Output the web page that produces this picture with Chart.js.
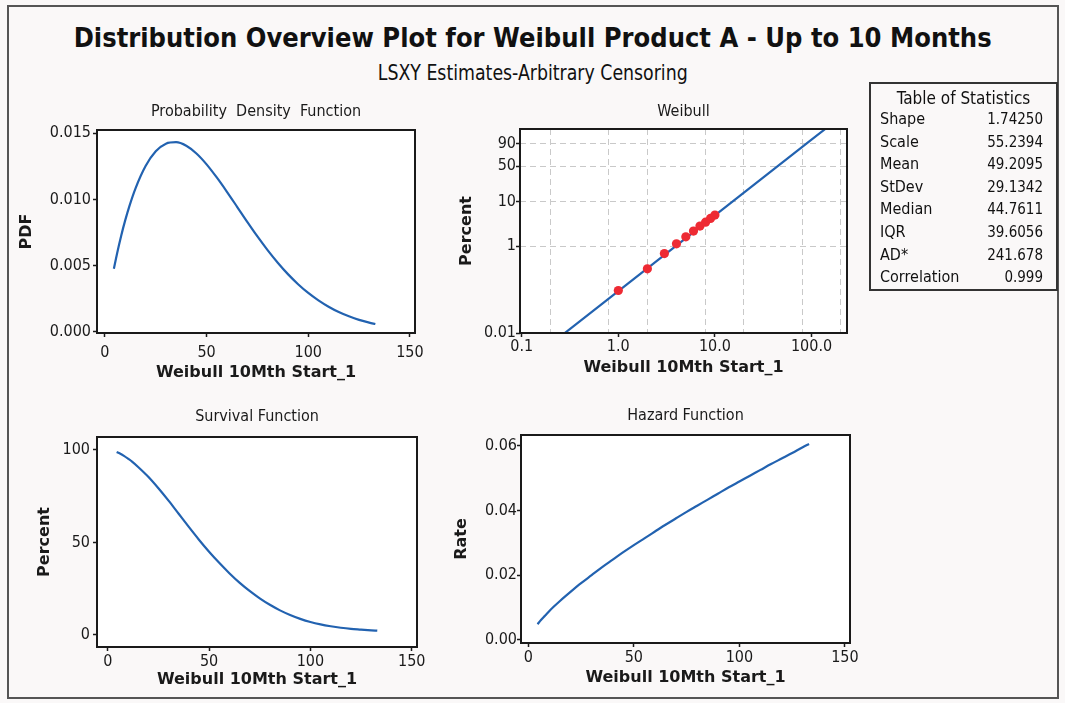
<!DOCTYPE html>
<html>
<head>
<meta charset="utf-8">
<title>Distribution Overview Plot</title>
<script src="https://cdn.jsdelivr.net/npm/chart.js@4.4.1/dist/chart.umd.min.js"></script>
<style>
  html, body { margin: 0; padding: 0; background: #faf8f8; }
  #page { position: relative; width: 1065px; height: 703px; overflow: hidden; background: #faf8f8; }
  #frame { position: absolute; left: 7px; top: 5px; width: 1052px; height: 694px; border: 2px solid #555; box-sizing: border-box; }
  .head { position: absolute; left: 0; width: 1065px; text-align: center; white-space: nowrap; color: #111; }
  .head span { display: inline-block; transform-origin: 50% 50%; }
  #t1 { top: 22px; line-height: 32px; font: bold 27px "DejaVu Sans", sans-serif; }
  #t2 { top: 61px; line-height: 24px; font: 21px "DejaVu Sans Condensed", "DejaVu Sans", sans-serif; }
  canvas { position: absolute; }
  #stats { position: absolute; left: 869px; top: 82px; width: 189px; height: 209px; border: 2px solid #333; box-sizing: border-box; font-family: "DejaVu Sans Condensed", "DejaVu Sans", sans-serif; color: #111; }
  #stats div { position: absolute; white-space: nowrap; line-height: 20px; }
</style>
</head>
<body>
<div id="page">
  <div id="frame"></div>
  <div class="head" id="t1"><span id="t1s">Distribution Overview Plot for Weibull Product A - Up to 10 Months</span></div>
  <div class="head" id="t2"><span id="t2s">LSXY Estimates-Arbitrary Censoring</span></div>
  <canvas id="pdfChart" width="440" height="295" style="left:0;top:95px"></canvas>
  <canvas id="probChart" width="430" height="295" style="left:440px;top:95px"></canvas>
  <canvas id="survChart" width="440" height="308" style="left:0;top:395px"></canvas>
  <canvas id="hazChart" width="430" height="308" style="left:440px;top:395px"></canvas>
  <div id="stats"></div>
</div>
<script>
// ---- data ----
const timeGrid = [4.4, 6, 8, 10, 12, 15, 20, 25, 30, 35, 40, 45, 50, 55, 60, 65, 70, 75, 80, 85, 90, 95, 100, 105, 110, 115, 120, 125, 130, 133];
const pdfValues = [0.00476, 0.00594, 0.00726, 0.00843, 0.00947, 0.01081, 0.01251, 0.01362, 0.01420, 0.01431,
                   0.01404, 0.01346, 0.01264, 0.01165, 0.01057, 0.00944, 0.00830, 0.00720, 0.00617, 0.00522,
                   0.00436, 0.00360, 0.00294, 0.00238, 0.00190, 0.00150, 0.00118, 0.00091, 0.00070, 0.00060];
const survivalPercent = [98.9, 98.1, 96.8, 95.3, 93.7, 90.8, 85.5, 79.3, 72.6, 65.5,
                         58.4, 51.5, 45.0, 39.0, 33.4, 28.3, 23.8, 19.8, 16.3, 13.3,
                         10.8, 8.7, 7.0, 5.7, 4.7, 3.9, 3.3, 2.9, 2.5, 2.3];
const hazardRate = [0.0048, 0.0061, 0.0075, 0.0089, 0.0102, 0.0120, 0.0148, 0.0175, 0.0200, 0.0225,
                    0.0248, 0.0271, 0.0293, 0.0314, 0.0335, 0.0356, 0.0376, 0.0396, 0.0415, 0.0434,
                    0.0453, 0.0472, 0.0490, 0.0508, 0.0526, 0.0544, 0.0561, 0.0578, 0.0596, 0.0606];

const failMonths = [1, 2, 3, 4, 5, 6, 7, 8, 9, 10];
const failPercent = [0.095, 0.30, 0.67, 1.12, 1.62, 2.2, 2.85, 3.5, 4.25, 5.05];
const fitMonths = [0.27, 1, 10, 100, 140];
const fitPercent = [0.0094, 0.092, 4.96, 94.0, 99.36];

const timeTicks = [0, 50, 100, 150];
const pdfTicks = [0, 0.005, 0.010, 0.015];
const survivalTicks = [0, 50, 100];
const hazardTicks = [0, 0.02, 0.04, 0.06];
const monthLabelTicks = [0.1, 1, 10, 100];
const monthGridTicks = [0.2, 0.8, 2, 8, 20, 80, 200];
const percentTicks = [0.01, 1, 10, 50, 90];

const statNames = ['Shape', 'Scale', 'Mean', 'StDev', 'Median', 'IQR', 'AD*', 'Correlation'];
const statValues = ['1.74250', '55.2394', '49.2095', '29.1342', '44.7611', '39.6056', '241.678', '0.999'];

// ---- Weibull probability-paper axis: linear in ln(-ln(1 - p)) ----
const weibullTransform = p => Math.log(-Math.log(1 - p / 100));
class WeibullPercentScale extends Chart.LinearScale {
  static id = 'weibullPercent';
  static defaults = {};
  configure() {
    super.configure();
    this._wMin = weibullTransform(this.min);
    this._wMax = weibullTransform(this.max);
  }
  getPixelForValue(v) {
    return this.getPixelForDecimal((weibullTransform(v) - this._wMin) / (this._wMax - this._wMin));
  }
  getValueForPixel(px) {
    const w = this._wMin + this.getDecimalForPixel(px) * (this._wMax - this._wMin);
    return 100 * (1 - Math.exp(-Math.exp(w)));
  }
}
Chart.register(WeibullPercentScale);

// ---- shared styling ----
const INK = '#1a1a1a';
const CURVE = '#2262b0';
const tickFont = { family: '"DejaVu Sans Condensed", "Open Sans", sans-serif', size: 16, lineHeight: 1.2 };
const axisTitleFont = { family: '"DejaVu Sans", sans-serif', size: 16, weight: 'bold', lineHeight: 1.2 };
const panelTitleFont = { family: '"DejaVu Sans Condensed", "Open Sans", sans-serif', size: 16, weight: 'normal', lineHeight: 1.125 };

// white plot area with a dark frame round it
const framePlugin = {
  id: 'plotFrame',
  beforeDraw(chart) {
    const { ctx, chartArea: a } = chart;
    ctx.save();
    ctx.fillStyle = '#ffffff';
    ctx.fillRect(a.left, a.top, a.right - a.left, a.bottom - a.top);
    ctx.restore();
  },
  afterDraw(chart) {
    const { ctx, chartArea: a } = chart;
    ctx.save();
    ctx.strokeStyle = INK;
    ctx.lineWidth = 2;
    ctx.strokeRect(a.left, a.top, a.right - a.left, a.bottom - a.top);
    ctx.restore();
  }
};

function scaleOpts(o) {
  return {
    type: o.type || 'linear',
    min: o.min,
    max: o.max,
    bounds: 'data',
    afterBuildTicks: s => { s.ticks = o.ticks.map(v => ({ value: v })); },
    afterFit: s => { if (o.horizontal) s.height = o.size; else s.width = o.size; },
    ticks: {
      autoSkip: false, maxRotation: 0, minRotation: 0,
      padding: o.tickPad, font: tickFont, color: INK,
      callback: o.label
    },
    grid: {
      drawOnChartArea: !!o.gridColor,
      color: o.gridColor || INK,
      tickColor: o.tickColor || INK,
      tickLength: o.tickLen ?? 4,
      tickWidth: 1.5,
      lineWidth: 1
    },
    border: { display: false, dash: o.dash || [] },
    title: {
      display: true, text: o.title, font: axisTitleFont, color: INK,
      padding: o.horizontal ? { top: 0, bottom: o.titlePad } : { top: o.titlePad, bottom: 0 }
    }
  };
}

function baseOptions(title, titlePad, padRight) {
  return {
    responsive: false,
    animation: false,
    devicePixelRatio: 1,
    layout: { padding: { left: 0, right: padRight, top: 0, bottom: 0 } },
    plugins: {
      legend: { display: false },
      tooltip: { enabled: false },
      title: { display: true, text: title, fullSize: false, color: INK, font: panelTitleFont, padding: titlePad }
    }
  };
}

function curveDataset(xs, ys) {
  return {
    data: xs.map((x, i) => ({ x: x, y: ys[i] })),
    borderColor: CURVE, borderWidth: 2.2, pointRadius: 0,
    cubicInterpolationMode: 'monotone', fill: false
  };
}

// ---- Probability Density Function ----
new Chart(document.getElementById('pdfChart'), {
  type: 'line',
  data: { datasets: [curveDataset(timeGrid, pdfValues)] },
  options: Object.assign(baseOptions('Probability  Density  Function', { top: 8, bottom: 9 }, 25), {
    scales: {
      x: scaleOpts({ horizontal: true, min: -3.9, max: 152.5, ticks: timeTicks, size: 57, tickPad: 6.7,
                     label: v => String(v), title: 'Weibull 10Mth Start_1', titlePad: 7.1 }),
      y: scaleOpts({ min: -0.00008, max: 0.01523, ticks: pdfTicks, size: 97, tickPad: 2,
                     label: v => v.toFixed(3), title: 'PDF', titlePad: 17 })
    }
  }),
  plugins: [framePlugin]
});

// ---- Weibull probability plot ----
const labelledMonths = new Set(monthLabelTicks);
new Chart(document.getElementById('probChart'), {
  type: 'scatter',
  data: {
    datasets: [
      {
        data: failMonths.map((m, i) => ({ x: m, y: failPercent[i] })),
        pointRadius: 4.6, pointBackgroundColor: '#ee2a33', pointBorderWidth: 0, showLine: false
      },
      {
        data: fitMonths.map((m, i) => ({ x: m, y: fitPercent[i] })),
        showLine: true, borderColor: CURVE, borderWidth: 2.2, pointRadius: 0, tension: 0
      }
    ]
  },
  options: Object.assign(baseOptions('Weibull', { top: 8, bottom: 8 }, 23), {
    scales: {
      x: Object.assign(scaleOpts({
        type: 'logarithmic', horizontal: true, min: 0.096, max: 233,
        ticks: monthLabelTicks.concat(monthGridTicks).sort((a, b) => a - b),
        size: 57, tickPad: 0, dash: [6, 4],
        gridColor: ctx => labelledMonths.has(ctx.tick && ctx.tick.value) ? 'rgba(0,0,0,0)' : '#c9c9c9',
        tickColor: ctx => labelledMonths.has(ctx.tick && ctx.tick.value) ? INK : 'rgba(0,0,0,0)',
        label: v => labelledMonths.has(v) ? v.toFixed(1) : '',
        title: 'Weibull 10Mth Start_1', titlePad: 12.4
      })),
      y: scaleOpts({
        type: 'weibullPercent', min: 0.01, max: 99.3, ticks: percentTicks,
        size: 80, tickPad: 0, dash: [6, 4],
        gridColor: ctx => (ctx.tick && ctx.tick.value === 0.01) ? 'rgba(0,0,0,0)' : '#c9c9c9',
        label: v => String(v), title: 'Percent', titlePad: 17
      })
    }
  }),
  plugins: [framePlugin]
});

// ---- Survival Function ----
new Chart(document.getElementById('survChart'), {
  type: 'line',
  data: { datasets: [curveDataset(timeGrid, survivalPercent)] },
  options: Object.assign(baseOptions('Survival Function', { top: 12.7, bottom: 11.3 }, 23), {
    scales: {
      x: scaleOpts({ horizontal: true, min: -5.3, max: 152.6, ticks: timeTicks, size: 56, tickPad: 1.1,
                     label: v => String(v), title: 'Weibull 10Mth Start_1', titlePad: 13.4 }),
      y: scaleOpts({ min: -6.5, max: 107, ticks: survivalTicks, size: 97, tickPad: 3,
                     label: v => String(v), title: 'Percent', titlePad: 35.4 })
    }
  }),
  plugins: [framePlugin]
});

// ---- Hazard Function ----
new Chart(document.getElementById('hazChart'), {
  type: 'line',
  data: { datasets: [curveDataset(timeGrid, hazardRate)] },
  options: Object.assign(baseOptions('Hazard Function', { top: 12, bottom: 10 }, 20), {
    scales: {
      x: scaleOpts({ horizontal: true, min: -3.46, max: 152.4, ticks: timeTicks, size: 60, tickPad: 1.1,
                     label: v => String(v), title: 'Weibull 10Mth Start_1', titlePad: 15.4 }),
      y: scaleOpts({ min: -0.00102, max: 0.0634, ticks: hazardTicks, size: 81, tickPad: 0,
                     label: v => v.toFixed(2), title: 'Rate', titlePad: 12.1 })
    }
  }),
  plugins: [framePlugin]
});

// ---- Table of Statistics ----
(function buildTable() {
  const box = document.getElementById('stats');
  const head = document.createElement('div');
  head.textContent = 'Table of Statistics';
  head.style.cssText = 'left:0;width:100%;text-align:center;top:4px;font-size:17px;';
  box.appendChild(head);
  statNames.forEach((name, i) => {
    const top = 25 + i * 22.6;
    const n = document.createElement('div');
    n.textContent = name;
    n.style.cssText = `left:9px;top:${top}px;font-size:16px;`;
    const v = document.createElement('div');
    v.textContent = statValues[i];
    v.style.cssText = `right:13px;top:${top}px;font-size:15px;text-align:right;`;
    box.appendChild(n);
    box.appendChild(v);
  });
})();

// ---- headline widths ----
function fitWidth(id, target) {
  const el = document.getElementById(id);
  const w = el.getBoundingClientRect().width;
  if (w > 0) el.style.transform = `scaleX(${target / w})`;
}
fitWidth('t1s', 918);
fitWidth('t2s', 310);
</script>
</body>
</html>
